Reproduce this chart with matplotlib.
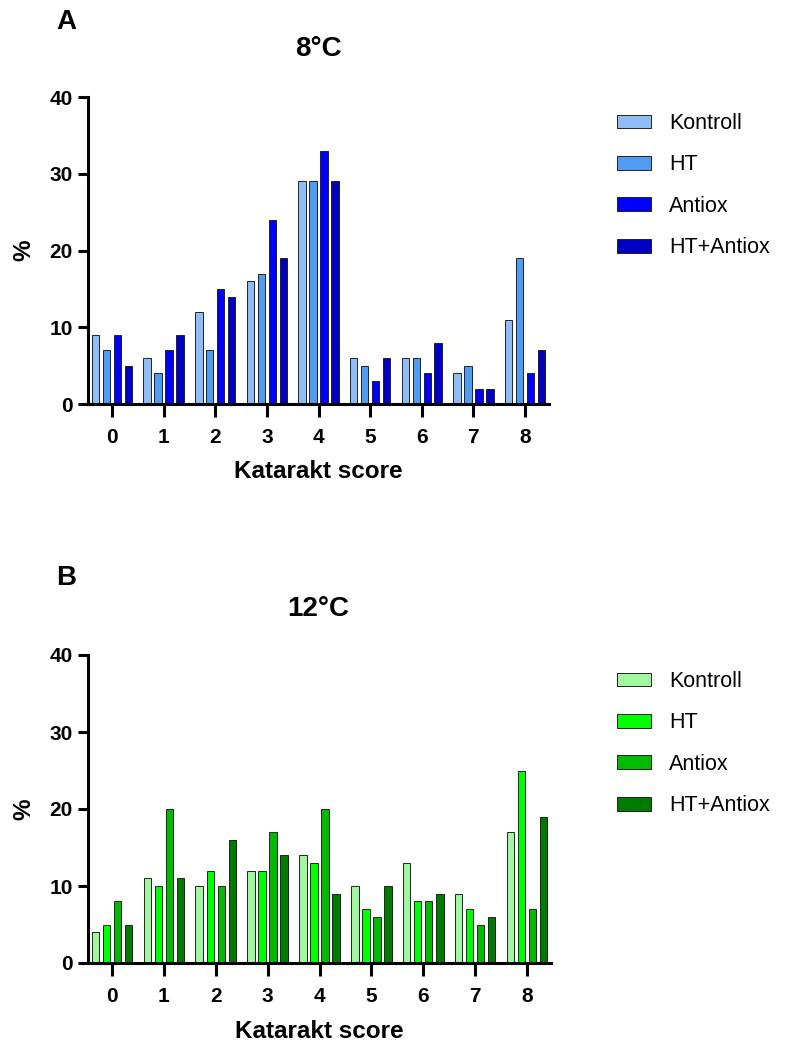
import numpy as np
import matplotlib
matplotlib.use('Agg')
import matplotlib.pyplot as plt

plt.rcParams['font.family'] = ['Liberation Sans', 'DejaVu Sans']

scores = [0, 1, 2, 3, 4, 5, 6, 7, 8]
groups = ['Kontroll', 'HT', 'Antiox', 'HT+Antiox']

# 8°C
kontroll_8 = [9, 6, 12, 16, 29, 6, 6, 4, 11]
ht_8 = [7, 4, 7, 17, 29, 5, 6, 5, 19]
antiox_8 = [9, 7, 15, 24, 33, 3, 4, 2, 4]
htantiox_8 = [5, 9, 14, 19, 29, 6, 8, 2, 7]

# 12°C
kontroll_12 = [4, 11, 10, 12, 14, 10, 13, 9, 17]
ht_12 = [5, 10, 12, 12, 13, 7, 8, 7, 25]
antiox_12 = [8, 20, 10, 17, 20, 6, 8, 5, 7]
htantiox_12 = [5, 11, 16, 14, 9, 10, 9, 6, 19]

blues = ['#8fbdf7', '#4f9cf2', '#0000ff', '#0000c4']
greens = ['#a0f7a0', '#00ff00', '#00bb00', '#007a00']

W, H = 788, 1046
fig = plt.figure(figsize=(W / 100, H / 100), dpi=100)


def panel(rect, series, colors, title, letter, title_y, letter_y):
    ax = fig.add_axes(rect)
    x = np.arange(len(scores))
    width = 0.145
    step = 0.213
    for i, (vals, c) in enumerate(zip(series, colors)):
        ax.bar(x + (i - 1.5) * step, vals, width, color=c, edgecolor='#222222',
               linewidth=0.7, label=groups[i], zorder=2)
    ax.set_xlim(-0.465, 8.465)
    ax.set_ylim(0, 40)
    ax.set_xticks(x)
    ax.set_xticklabels([str(s) for s in scores])
    ax.set_yticks([0, 10, 20, 30, 40])
    for s in ['top', 'right']:
        ax.spines[s].set_visible(False)
    for s in ['left', 'bottom']:
        ax.spines[s].set_linewidth(2.2)
    ax.tick_params(axis='both', width=2.2, length=7, labelsize=15, pad=4)
    ax.tick_params(axis='x', length=9, pad=8)
    for lab in ax.get_xticklabels() + ax.get_yticklabels():
        lab.set_fontweight('bold')
    ax.set_xlabel('Katarakt score', fontsize=17.5, fontweight='bold', labelpad=10)
    ax.set_ylabel('%', fontsize=17.5, fontweight='bold', labelpad=10)
    fig.text(318 / W, 1 - title_y / H, title, fontsize=20, fontweight='bold',
             ha='center', va='center')
    fig.text(66 / W, 1 - letter_y / H, letter, fontsize=20, fontweight='bold',
             ha='center', va='center')
    top = rect[1] + rect[3]
    ax.legend(loc='upper left', bbox_to_anchor=(617 / W, top - 16 / H),
              bbox_transform=fig.transFigure, frameon=False, fontsize=15.5,
              borderaxespad=0, borderpad=0, handlelength=1.58, handleheight=0.6,
              handletextpad=0.85, labelspacing=0.95)
    return ax


panel([88 / W, 1 - 404 / H, 461 / W, 307 / H],
      [kontroll_8, ht_8, antiox_8, htantiox_8], blues, '8°C', 'A', 49, 22)
panel([88 / W, 1 - 963 / H, 463 / W, 308 / H],
      [kontroll_12, ht_12, antiox_12, htantiox_12], greens, '12°C', 'B', 609, 578)

plt.savefig('out.png', dpi=100)
plt.close()
